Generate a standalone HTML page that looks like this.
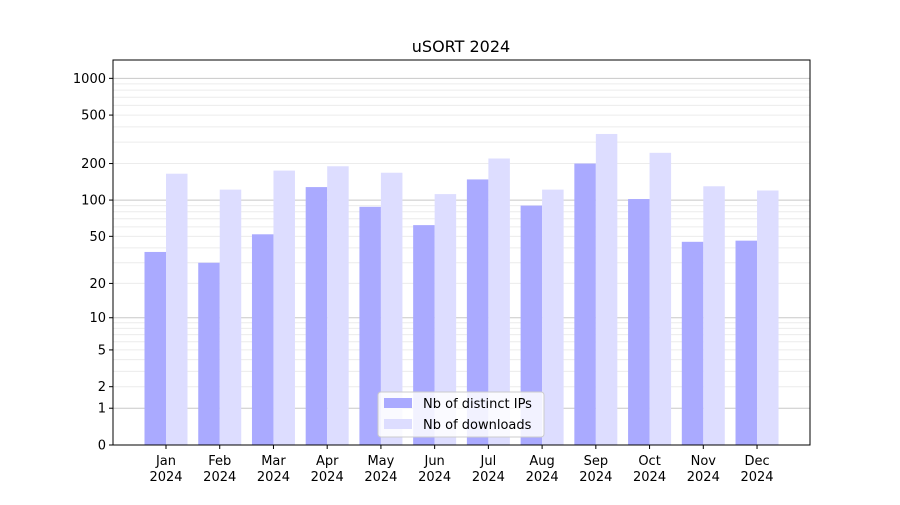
<!DOCTYPE html>
<html><head><meta charset="utf-8"><style>
body{margin:0;background:#fff;}
svg text{font-family:"DejaVu Sans","Liberation Sans",sans-serif;}
</style></head><body>
<svg id="chart" width="900" height="500" xmlns="http://www.w3.org/2000/svg">
<rect width="900" height="500" fill="#fff"/>
<text x="461" y="52" font-size="16" text-anchor="middle">uSORT 2024</text>
<g id="grid"></g><g id="bars"></g><g id="axes"></g>
<g>
<rect x="378" y="392" width="166" height="45" rx="3" fill="#fff" fill-opacity="0.85" stroke="#ccc"/>
<rect x="384" y="398" width="28" height="10" fill="#aaaaff"/>
<text x="423" y="408" font-size="13">Nb of distinct IPs</text>
<rect x="384" y="419" width="28" height="10" fill="#ddddff"/>
<text x="423" y="429" font-size="13">Nb of downloads</text>
</g>
</svg>
<script>
const months=["Jan","Feb","Mar","Apr","May","Jun","Jul","Aug","Sep","Oct","Nov","Dec"];
const ips=[37,30,52,128,88,62,148,90,200,102,45,46];
const downloads=[165,122,175,190,168,112,220,122,350,245,130,120];
const yTicks=[0,1,2,5,10,20,50,100,200,500,1000];
const NS="http://www.w3.org/2000/svg";
const L=113,R=810,T=60,B=445;
function y(v){return B-Math.log10(v+1)*122.2;}
function x(i){return 166+i*53.73;}
function mk(tag,attrs,parent){const e=document.createElementNS(NS,tag);for(const k in attrs)e.setAttribute(k,attrs[k]);parent.appendChild(e);return e;}
const grid=document.getElementById('grid'),bars=document.getElementById('bars'),axes=document.getElementById('axes');
for(let d=1;d<=1000;d*=10){for(let m=1;m<=9;m++){const v=d*m;if(v>1400)break;const yy=y(v);if(yy<T)continue;
const ln=mk('line',{x1:L,x2:R,y1:yy,y2:yy,stroke:m===1?'#c8c8c8':'#ececec','stroke-width':1},grid);

}}
const bw=21.5;
months.forEach((mo,i)=>{
const a=mk('rect',{x:x(i)-bw,y:y(ips[i]),width:bw,height:B-y(ips[i]),fill:'#aaaaff'},bars);


const b=mk('rect',{x:x(i),y:y(downloads[i]),width:bw,height:B-y(downloads[i]),fill:'#ddddff'},bars);


mk('line',{x1:x(i),x2:x(i),y1:B,y2:B+4,stroke:'#000'},axes);
const t=mk('text',{x:x(i),y:B+20,'font-size':13,'text-anchor':'middle'},axes);
t.textContent=mo;


const t2=mk('text',{x:x(i),y:B+36,'font-size':13,'text-anchor':'middle'},axes);
t2.textContent='2024';


});
yTicks.forEach(v=>{const yy=y(v);
mk('line',{x1:L-4,x2:L,y1:yy,y2:yy,stroke:'#000'},axes);
const t=mk('text',{x:L-7,y:yy+4.5,'font-size':13,'text-anchor':'end'},axes);
t.textContent=v;

});
const fr=mk('rect',{x:L,y:T,width:R-L,height:B-T,fill:'none',stroke:'#000','stroke-width':1},axes);


</script>
</body></html>
